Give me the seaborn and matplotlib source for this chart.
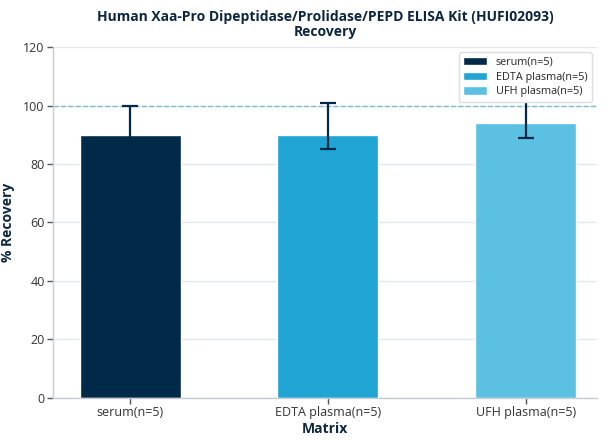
import matplotlib
matplotlib.use("Agg")
import matplotlib.pyplot as plt
import seaborn as sns
import pandas as pd
import numpy as np
from matplotlib import font_manager
from matplotlib.patches import Patch

categories = ["serum(n=5)", "EDTA plasma(n=5)", "UFH plasma(n=5)"]
recovery = [90, 90, 94]
err_low = [80, 85, 89]
err_high = [100, 101, 103]
colors = ["#002a48", "#1fa4d3", "#5bc0e1"]

sns.set_theme(style="white")
bold_ok = any(f.name == "Noto Sans" and f.weight in (700, "bold") for f in font_manager.fontManager.ttflist)
fam = "Noto Sans" if bold_ok else "Open Sans"
plt.rcParams['font.family'] = [fam, 'DejaVu Sans']

df = pd.DataFrame({"Matrix": categories, "Recovery": recovery})

fig, ax = plt.subplots(figsize=(6.08, 4.44), dpi=100)
fig.subplots_adjust(left=0.087, right=0.982, top=0.894, bottom=0.104)

sns.barplot(data=df, x="Matrix", y="Recovery", hue="Matrix", palette=colors,
            order=categories, hue_order=categories, width=0.51, dodge=False,
            saturation=1, errorbar=None, ax=ax, legend=False, zorder=2)

xs = np.arange(len(categories))
yerr = [np.array(recovery) - np.array(err_low), np.array(err_high) - np.array(recovery)]
ax.errorbar(xs, recovery, yerr=yerr, fmt="none", ecolor="#002a48", elinewidth=1.6,
            capsize=6, capthick=1.6, zorder=3)

ax.axhline(100, color="#7fbfcc", linestyle="--", linewidth=1, zorder=1)

ax.set_ylim(0, 120)
ax.set_xlim(-0.39, 2.36)
ax.set_yticks([0, 20, 40, 60, 80, 100, 120])
ax.yaxis.grid(True, color="#e3e6ea", linewidth=1)
ax.set_axisbelow(True)

for s in ["top", "right"]:
    ax.spines[s].set_visible(False)
for s in ["left", "bottom"]:
    ax.spines[s].set_color("#c8ccd2")
    ax.spines[s].set_linewidth(1)

ax.tick_params(axis="both", which="both", length=4, width=1, color="#555555",
               labelsize=9, labelcolor="#333333", bottom=True, left=True, pad=2)

ax.set_xlabel("Matrix", fontsize=10, fontweight="bold", color="#0d2640", labelpad=2)
ax.set_ylabel("% Recovery", fontsize=10, fontweight="bold", color="#0d2640", labelpad=6)
ax.set_title("Human Xaa-Pro Dipeptidase/Prolidase/PEPD ELISA Kit (HUFI02093)\nRecovery",
             fontsize=10, fontweight="bold", color="#0d2640", linespacing=1.1, pad=8)

handles = [Patch(facecolor=c, label=l) for c, l in zip(colors, categories)]
leg = ax.legend(handles=handles, loc="upper right", fontsize=7.8, frameon=True,
                fancybox=True, framealpha=1, edgecolor="#dddddd",
                handlelength=2.2, handleheight=0.8, labelspacing=0.35,
                borderaxespad=0.5)
leg.set_zorder(5)

fig.savefig("out.png", dpi=100)
